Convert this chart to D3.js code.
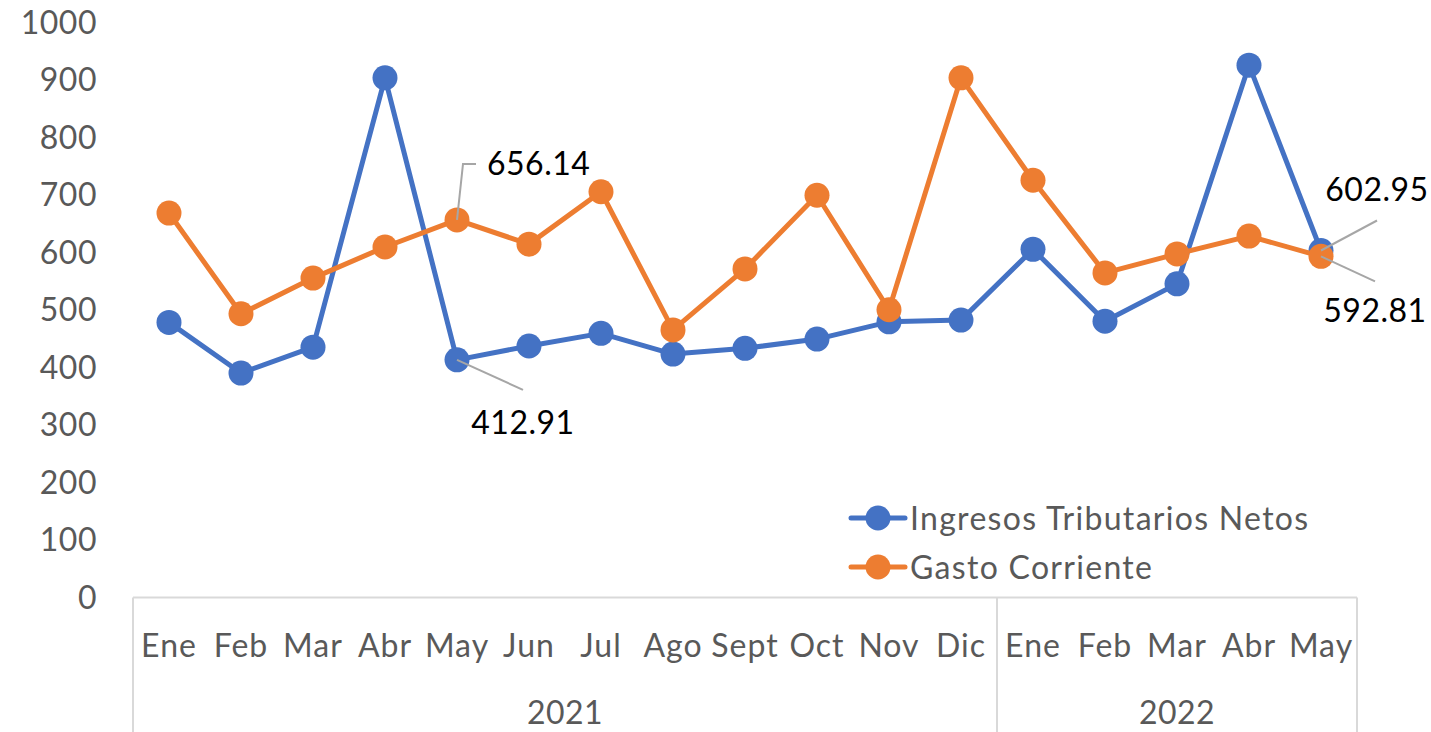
<!DOCTYPE html>
<html><head><meta charset="utf-8">
<script src="https://cdn.jsdelivr.net/npm/d3@7"></script>
<style>body{margin:0;background:#fff}svg{display:block}</style>
</head><body>
<svg id="c" width="1431" height="732"></svg>
<script>
const months = ["Ene","Feb","Mar","Abr","May","Jun","Jul","Ago","Sept","Oct","Nov","Dic","Ene","Feb","Mar","Abr","May"];
const years = [{label:"2021", from:0, to:12},{label:"2022", from:12, to:17}];
const ingresos = [478,390,435,903,412.91,437,459,423,433,449,479,482,605,480,545,925,602.95];
const gasto = [668,493,555,609,656.14,614,705,465,571,699,500,903,725,564,597,628,592.81];
const yTicks = [0,100,200,300,400,500,600,700,800,900,1000];
const seriesNames = ["Ingresos Tributarios Netos","Gasto Corriente"];
const colors = ["#4472C4","#ED7D31"];

const svg = d3.select("#c");
const font = "Lato, 'Open Sans', sans-serif";
const fs = 32;
const x = d3.scaleBand().domain(d3.range(months.length)).range([133,1357]).padding(0);
const cx = i => x(i) + x.bandwidth()/2;
const y = d3.scaleLinear().domain([0,1000]).range([597.5,22]);

// y tick labels
svg.append("g").selectAll("text").data(yTicks).join("text")
  .attr("x",97).attr("y",d=>y(d)).attr("dy","0.36em")
  .attr("text-anchor","end").attr("font-family",font).attr("font-size",fs)
  .attr("letter-spacing",0.5)
  .attr("fill","#595959").text(d=>d);

// x axis lines
const ax = svg.append("g").attr("stroke","#D9D9D9").attr("stroke-width",2);
ax.append("line").attr("x1",x(0)).attr("x2",x(months.length-1)+x.bandwidth()).attr("y1",y(0)).attr("y2",y(0));
const bounds = [0,12,17];
bounds.forEach(b=>{
  const xx = b<months.length ? x(b) : x(months.length-1)+x.bandwidth();
  ax.append("line").attr("x1",xx).attr("x2",xx).attr("y1",y(0)).attr("y2",732);
});
svg.append("g").selectAll("text").data(months).join("text")
  .attr("x",(d,i)=>cx(i)).attr("y",645).attr("dy","0.36em")
  .attr("text-anchor","middle").attr("font-family",font).attr("font-size",fs)
  .attr("letter-spacing",1)
  .attr("fill","#595959").text(d=>d);
svg.append("g").selectAll("text").data(years).join("text")
  .attr("x",d=>{const a=x(d.from); const b=d.to<months.length?x(d.to):x(months.length-1)+x.bandwidth(); return (a+b)/2;})
  .attr("y",712).attr("dy","0.36em")
  .attr("text-anchor","middle").attr("font-family",font).attr("font-size",fs)
  .attr("letter-spacing",0.5)
  .attr("fill","#595959").text(d=>d.label);

// series
const line = d3.line().x((d,i)=>cx(i)).y(d=>y(d));
[ingresos,gasto].forEach((s,k)=>{
  const g = svg.append("g");
  g.append("path").datum(s).attr("d",line).attr("fill","none")
    .attr("stroke",colors[k]).attr("stroke-width",5).attr("stroke-linejoin","round");
  g.selectAll("circle").data(s).join("circle")
    .attr("cx",(d,i)=>cx(i)).attr("cy",d=>y(d)).attr("r",12.5).attr("fill",colors[k]);
});

// data labels with leader lines
const labels = [
  {series:gasto, i:4, pts:[[6,-56],[19,-56]], tx:30, ty:-56, anchor:"start"},
  {series:ingresos, i:4, pts:[[66,30]], tx:66, ty:63, anchor:"middle"},
  {series:ingresos, i:16, pts:[[56,-30]], tx:56, ty:-61, anchor:"middle"},
  {series:gasto, i:16, pts:[[54,25]], tx:54, ty:54, anchor:"middle"}
];
const lg = svg.append("g");
labels.forEach(l=>{
  const px = cx(l.i), py = y(l.series[l.i]);
  const p = [[px,py]].concat(l.pts.map(q=>[px+q[0],py+q[1]]));
  lg.append("path").attr("d",d3.line()(p)).attr("fill","none")
    .attr("stroke","#A6A6A6").attr("stroke-width",2);
  lg.append("text").attr("x",px+l.tx).attr("y",py+l.ty).attr("dy","0.36em")
    .attr("text-anchor",l.anchor).attr("font-family",font).attr("font-size",fs)
    .attr("letter-spacing",0.5)
    .attr("fill","#000").text(l.series[l.i].toFixed(2));
});

// legend
const leg = svg.append("g");
seriesNames.forEach((n,k)=>{
  const ly = 518 + k*49;
  leg.append("line").attr("x1",851).attr("x2",905).attr("y1",ly).attr("y2",ly)
    .attr("stroke",colors[k]).attr("stroke-width",5).attr("stroke-linecap","round");
  leg.append("circle").attr("cx",878).attr("cy",ly).attr("r",12.5).attr("fill",colors[k]);
  leg.append("text").attr("x",910).attr("y",ly).attr("dy","0.36em")
    .attr("font-family",font).attr("font-size",fs).attr("letter-spacing",1.3)
    .attr("fill","#595959").text(n);
});
</script>
</body></html>
